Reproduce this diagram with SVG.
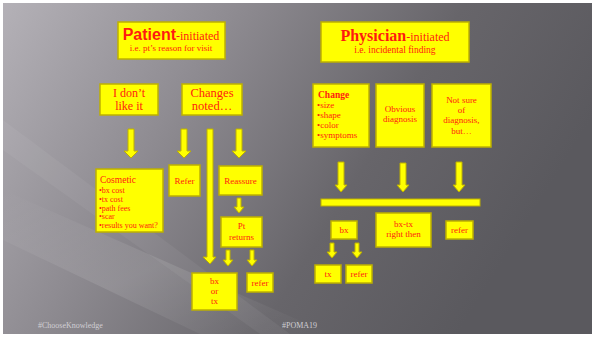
<svg xmlns="http://www.w3.org/2000/svg" width="593" height="337" viewBox="0 0 593 337">
<defs>
<linearGradient id="bg" x1="0" y1="0" x2="1" y2="0.35">
<stop offset="0" stop-color="#b4b1b7"/>
<stop offset="0.35" stop-color="#8f8c92"/>
<stop offset="0.7" stop-color="#67656a"/>
<stop offset="1" stop-color="#5a595e"/>
</linearGradient>
<linearGradient id="streak" x1="0" y1="0" x2="1" y2="1">
<stop offset="0" stop-color="#ffffff" stop-opacity="0"/>
<stop offset="0.5" stop-color="#ffffff" stop-opacity="0.12"/>
<stop offset="1" stop-color="#ffffff" stop-opacity="0"/>
</linearGradient>
<style>
.box{fill:#ffff00;stroke:#bdb000;stroke-width:1.5}
.arr{fill:#ffff00;stroke:#bdb000;stroke-width:1}
.t{font-family:"Liberation Serif","DejaVu Serif",serif;fill:#ff1a10}
.c{text-anchor:middle}
.foot{font-family:"Liberation Serif",serif;font-size:8px;fill:#d0ced3}
</style>
</defs>
<rect x="0" y="0" width="593" height="337" fill="#ffffff"/>
<rect x="3" y="3" width="589" height="331" fill="url(#bg)"/>
<polygon points="3,190 3,240 200,334 330,334" fill="url(#streak)" opacity="0.9"/>
<polygon points="3,120 3,150 260,334 290,334" fill="#ffffff" opacity="0.05"/>

<g id="connectors">
<polygon class="arr" points="128,129 134,129 134,151 138,151 131,158 124,151 128,151"/>
<polygon class="arr" points="181,129 187,129 187,151 191,151 184,158 177,151 181,151"/>
<polygon class="arr" points="207,129 213,129 213,257 216,257 210,264 203,257 207,257"/>
<polygon class="arr" points="236,129 242,129 242,151 246,151 239,158 232,151 236,151"/>
<polygon class="arr" points="237,198 241,198 241,207 244,207 239,213 234,207 237,207"/>
<polygon class="arr" points="226,250 230,250 230,260 233,260 228,266 223,260 226,260"/>
<polygon class="arr" points="250,250 254,250 254,260 257,260 252,266 247,260 250,260"/>
<polygon class="arr" points="338,162 344,162 344,185 347,185 341,192 335,185 338,185"/>
<polygon class="arr" points="400,163 406,163 406,185 409,185 403,192 397,185 400,185"/>
<polygon class="arr" points="456,162 462,162 462,185 465,185 459,192 453,185 456,185"/>
<rect class="arr" x="321" y="199" width="159" height="7"/>
<polygon class="arr" points="330,243 334,243 334,252 337,252 332,258 327,252 330,252"/>
<polygon class="arr" points="355,243 359,243 359,252 362,252 357,258 352,252 355,252"/>
</g>

<g id="patient">
<rect class="box" x="118" y="22" width="107" height="37"/>
<text class="t c" x="171" y="40"><tspan font-family="Liberation Sans,Arial,sans-serif" font-weight="bold" font-size="16">Patient</tspan><tspan font-size="12">-initiated</tspan></text>
<text class="t c" x="171" y="51" font-size="9">i.e. pt’s reason for visit</text>
</g>
<g id="physician">
<rect class="box" x="321" y="22" width="148" height="40"/>
<text class="t c" x="395" y="41"><tspan font-weight="bold" font-size="16">Physician</tspan><tspan font-size="12">-initiated</tspan></text>
<text class="t c" x="395" y="53" font-size="9.5">i.e. incidental finding</text>
</g>
<g id="dontlike">
<rect class="box" x="100" y="84" width="58" height="31"/>
<text class="t c" x="129" y="97" font-size="12">I don’t</text>
<text class="t c" x="129" y="110" font-size="12">like it</text>
</g>
<g id="changes">
<rect class="box" x="182" y="84" width="60" height="31"/>
<text class="t c" x="212" y="97" font-size="12.5">Changes</text>
<text class="t c" x="212" y="110" font-size="12.5">noted…</text>
</g>
<g id="cosmetic">
<rect class="box" x="96" y="169" width="67" height="63"/>
<text class="t" x="100" y="183" font-size="9.5">Cosmetic</text>
<text class="t" x="99" y="193" font-size="8">•bx cost</text>
<text class="t" x="99" y="202" font-size="8">•tx cost</text>
<text class="t" x="99" y="211" font-size="8">•path fees</text>
<text class="t" x="99" y="219" font-size="8">•scar</text>
<text class="t" x="99" y="228" font-size="8">•results you want?</text>
</g>
<g id="refer1">
<rect class="box" x="169" y="165" width="31" height="31"/>
<text class="t c" x="184.5" y="184" font-size="9">Refer</text>
</g>
<g id="reassure">
<rect class="box" x="219" y="166" width="43" height="29"/>
<text class="t c" x="240.5" y="184" font-size="9">Reassure</text>
</g>
<g id="ptreturns">
<rect class="box" x="221" y="217" width="41" height="30"/>
<text class="t c" x="241.5" y="229" font-size="9">Pt</text>
<text class="t c" x="241.5" y="240" font-size="9">returns</text>
</g>
<g id="bxortx">
<rect class="box" x="192" y="273" width="45" height="37"/>
<text class="t c" x="214.5" y="284" font-size="9">bx</text>
<text class="t c" x="214.5" y="294" font-size="9">or</text>
<text class="t c" x="214.5" y="304" font-size="9">tx</text>
</g>
<g id="refer2">
<rect class="box" x="247" y="273" width="26" height="19"/>
<text class="t c" x="260" y="286" font-size="9">refer</text>
</g>
<g id="change">
<rect class="box" x="313" y="84" width="56" height="63"/>
<text class="t" x="318" y="98" font-size="9.5" font-weight="bold">Change</text>
<text class="t" x="317" y="108" font-size="9">•size</text>
<text class="t" x="317" y="118" font-size="9">•shape</text>
<text class="t" x="317" y="128" font-size="9">•color</text>
<text class="t" x="317" y="138" font-size="9">•symptoms</text>
</g>
<g id="obvious">
<rect class="box" x="376" y="84" width="48" height="63"/>
<text class="t c" x="400" y="112" font-size="9">Obvious</text>
<text class="t c" x="400" y="122" font-size="9">diagnosis</text>
</g>
<g id="notsure">
<rect class="box" x="432" y="84" width="59" height="63"/>
<text class="t c" x="461.5" y="103" font-size="9">Not sure</text>
<text class="t c" x="461.5" y="113" font-size="9">of</text>
<text class="t c" x="461.5" y="123" font-size="9">diagnosis,</text>
<text class="t c" x="461.5" y="134" font-size="9">but…</text>
</g>
<g id="bx">
<rect class="box" x="331" y="221" width="26" height="18"/>
<text class="t c" x="344" y="233" font-size="9">bx</text>
</g>
<g id="bxtx">
<rect class="box" x="376" y="213" width="55" height="34"/>
<text class="t c" x="403.5" y="227" font-size="9">bx-tx</text>
<text class="t c" x="403.5" y="237" font-size="9">right then</text>
</g>
<g id="refer3">
<rect class="box" x="446" y="221" width="27" height="18"/>
<text class="t c" x="459.5" y="233" font-size="9">refer</text>
</g>
<g id="tx">
<rect class="box" x="315" y="265" width="26" height="18"/>
<text class="t c" x="328" y="277" font-size="9">tx</text>
</g>
<g id="refer4">
<rect class="box" x="346" y="265" width="26" height="18"/>
<text class="t c" x="359" y="277" font-size="9">refer</text>
</g>
<text class="foot" x="38" y="328">#ChooseKnowledge</text>
<text class="foot" x="282" y="328">#POMA19</text>
</svg>
